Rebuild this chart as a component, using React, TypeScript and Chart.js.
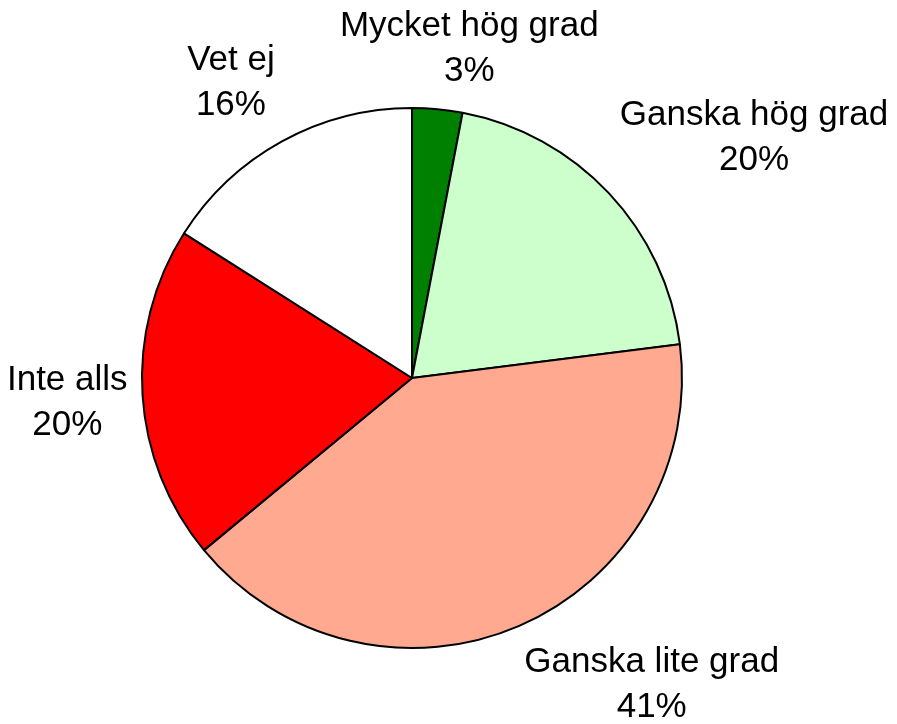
import React, { useEffect, useRef } from "react";
import { Chart, registerables } from "chart.js";

Chart.register(...registerables);

const categories = ["Mycket hög grad", "Ganska hög grad", "Ganska lite grad", "Inte alls", "Vet ej"];
const values = [3, 20, 41, 20, 16];
const percentLabels = ["3%", "20%", "41%", "20%", "16%"];
const colors = ["#008000", "#CCFFCC", "#FFAA90", "#FF0000", "#FFFFFF"];

const FONT_SIZE = 35;
const LINE_H = 45;

const labelPlugin = {
  id: "outsideLabels",
  afterDraw(chart: any) {
    const ctx = chart.ctx;
    const meta = chart.getDatasetMeta(0);
    ctx.save();
    ctx.font = `${FONT_SIZE}px "Liberation Sans", Arial, sans-serif`;
    ctx.fillStyle = "#000";
    ctx.textAlign = "center";
    ctx.textBaseline = "middle";
    meta.data.forEach((arc: any, i: number) => {
      const mid = (arc.startAngle + arc.endAngle) / 2;
      const r = arc.outerRadius + 15;
      const ax = arc.x + Math.cos(mid) * r;
      const ay = arc.y + Math.sin(mid) * r;
      const lines = [categories[i], percentLabels[i]];
      const w = Math.max(...lines.map((l) => ctx.measureText(l).width));
      const h = LINE_H * lines.length;
      const k = 2.5;
      const fx = Math.max(-1, Math.min(1, Math.cos(mid) * k));
      const fy = Math.max(-1, Math.min(1, Math.sin(mid) * k));
      const cx = ax + fx * (w / 2);
      const cy = ay + fy * (h / 2);
      lines.forEach((l, j) => {
        ctx.fillText(l, cx, cy - h / 2 + LINE_H * (j + 0.5));
      });
    });
    ctx.restore();
  },
};

export default function App() {
  const ref = useRef<HTMLCanvasElement>(null);
  useEffect(() => {
    document.body.style.margin = "0";
    const chart = new Chart(ref.current!, {
      type: "pie",
      data: {
        labels: categories,
        datasets: [
          {
            data: values,
            backgroundColor: colors,
            borderColor: "#000",
            borderWidth: 2,
            borderAlign: "center",
          },
        ],
      },
      options: {
        animation: false,
        responsive: false,
        layout: { padding: { left: 100, right: 173, top: 107, bottom: 75 } },
        plugins: { legend: { display: false }, tooltip: { enabled: false } },
      },
      plugins: [labelPlugin],
    });
    return () => chart.destroy();
  }, []);
  return (
    <div style={{ width: 897, height: 724, background: "#fff" }}>
      <canvas ref={ref} width={897} height={724} style={{ display: "block" }} />
    </div>
  );
}
